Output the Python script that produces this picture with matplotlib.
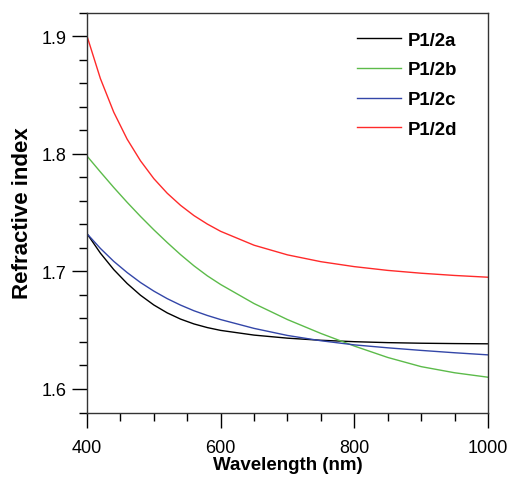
import matplotlib
matplotlib.use("Agg")
import matplotlib.pyplot as plt
from matplotlib.ticker import MultipleLocator

plt.rcParams["font.family"] = ["Liberation Sans", "DejaVu Sans"]

# wavelength (nm) and refractive index
wl = [400, 420, 440, 460, 480, 500, 520, 540, 560, 580, 600,
      650, 700, 750, 800, 850, 900, 950, 1000]
n_a = [1.732, 1.7155, 1.7015, 1.6897, 1.6797, 1.6714, 1.6647, 1.6594, 1.6553, 1.6522, 1.6498,
       1.6458, 1.6432, 1.6414, 1.6402, 1.6394, 1.6389, 1.6386, 1.6384]
n_b = [1.798, 1.7845, 1.7713, 1.7587, 1.7467, 1.7353, 1.7245, 1.7142, 1.7047, 1.6962, 1.6888,
       1.6726, 1.659, 1.6472, 1.6365, 1.6268, 1.619, 1.6138, 1.610]
n_c = [1.732, 1.7195, 1.7085, 1.699, 1.6905, 1.6832, 1.6768, 1.6713, 1.6665, 1.6625, 1.659,
       1.6515, 1.6455, 1.641, 1.6375, 1.635, 1.6328, 1.6308, 1.629]
n_d = [1.900, 1.8639, 1.8353, 1.8124, 1.794, 1.7788, 1.7664, 1.7561, 1.7474, 1.7402, 1.734,
       1.7222, 1.714, 1.7082, 1.704, 1.7008, 1.6984, 1.6965, 1.695]

labels = ["P1/2a", "P1/2b", "P1/2c", "P1/2d"]
colors = ["black", "#5cbb4a", "#3346a8", "#ff2a2a"]

fig = plt.figure(figsize=(5.10, 4.81), dpi=100)
ax = fig.add_axes([0.1706, 0.1403, 0.7862, 0.8316])

for ys, lab, c in zip([n_a, n_b, n_c, n_d], labels, colors):
  ax.plot(wl, ys, color=c, lw=1.0, label=lab)

ax.set_xlim(400, 1000)
ax.set_ylim(1.58, 1.92)
ax.xaxis.set_major_locator(MultipleLocator(200))
ax.xaxis.set_minor_locator(MultipleLocator(50))
ax.yaxis.set_major_locator(MultipleLocator(0.1))
ax.yaxis.set_minor_locator(MultipleLocator(0.02))
ax.yaxis.set_major_formatter(plt.FormatStrFormatter("%.1f"))

ax.tick_params(which="major", direction="out", length=11, width=1.0, labelsize=13, pad=4)
ax.tick_params(which="minor", direction="out", length=5.5, width=1.0)
ax.tick_params(axis="x", which="major", pad=8)
for s in ax.spines.values():
  s.set_linewidth(1.0)
  s.set_color("#333333")

ax.set_xlabel("Wavelength (nm)", fontsize=13.5, fontweight="bold", labelpad=0)
ax.set_ylabel("Refractive index", fontsize=16, fontweight="bold", labelpad=6)

leg = ax.legend(loc="upper left", bbox_to_anchor=(0.6725, 0.952), frameon=False,
                borderpad=0, borderaxespad=0,
                handlelength=2.4, handletextpad=0.32, labelspacing=0.68,
                prop={"size": 13.4, "weight": "bold"})

fig.savefig("out.png", dpi=100)
